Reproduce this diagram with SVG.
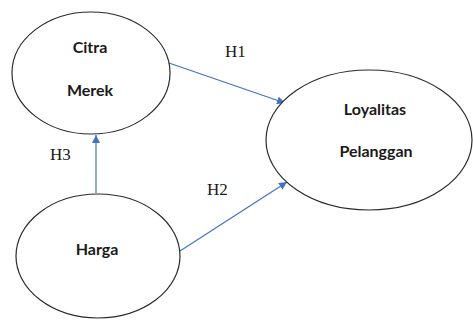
<svg xmlns="http://www.w3.org/2000/svg" width="473" height="320" viewBox="0 0 473 320">
<style>
.node{fill:#fff;stroke:#2b2b2b;stroke-width:1.2}
.lbl{font-family:Lato,"Open Sans",sans-serif;font-weight:bold;font-size:16px;fill:#1a1a1a;text-anchor:middle}
.h{font-family:"Liberation Serif",serif;font-size:17px;fill:#1a1a1a}
.c{stroke:#4472C4;stroke-width:1.2;fill:none;marker-end:url(#ah)}
</style>
<defs>
<marker id="ah" viewBox="0 0 10 10" refX="10" refY="5" markerWidth="8" markerHeight="8" markerUnits="userSpaceOnUse" orient="auto">
<path d="M0,0 L10,5 L0,10 z" fill="#4472C4"/>
</marker>
</defs>
<rect width="473" height="320" fill="#fff"/>
<g id="connectors">
<line class="c" x1="169" y1="63" x2="285" y2="103"/>
<line class="c" x1="180" y1="251" x2="287" y2="182"/>
<line class="c" x1="96" y1="193" x2="96" y2="135"/>
</g>
<g id="labels">
<text class="h" x="225" y="57">H1</text>
<text class="h" x="207" y="195">H2</text>
<text class="h" x="50" y="160">H3</text>
</g>
<g id="citra-merek">
<ellipse class="node" cx="91" cy="73" rx="79" ry="61"/>
<text class="lbl" x="90" y="53">Citra</text>
<text class="lbl" x="90" y="96">Merek</text>
</g>
<g id="loyalitas-pelanggan">
<ellipse class="node" cx="369" cy="140" rx="103" ry="70"/>
<text class="lbl" x="375" y="115">Loyalitas</text>
<text class="lbl" x="376" y="157">Pelanggan</text>
</g>
<g id="harga">
<ellipse class="node" cx="98" cy="256" rx="82" ry="62"/>
<text class="lbl" x="97" y="255">Harga</text>
</g>
</svg>
